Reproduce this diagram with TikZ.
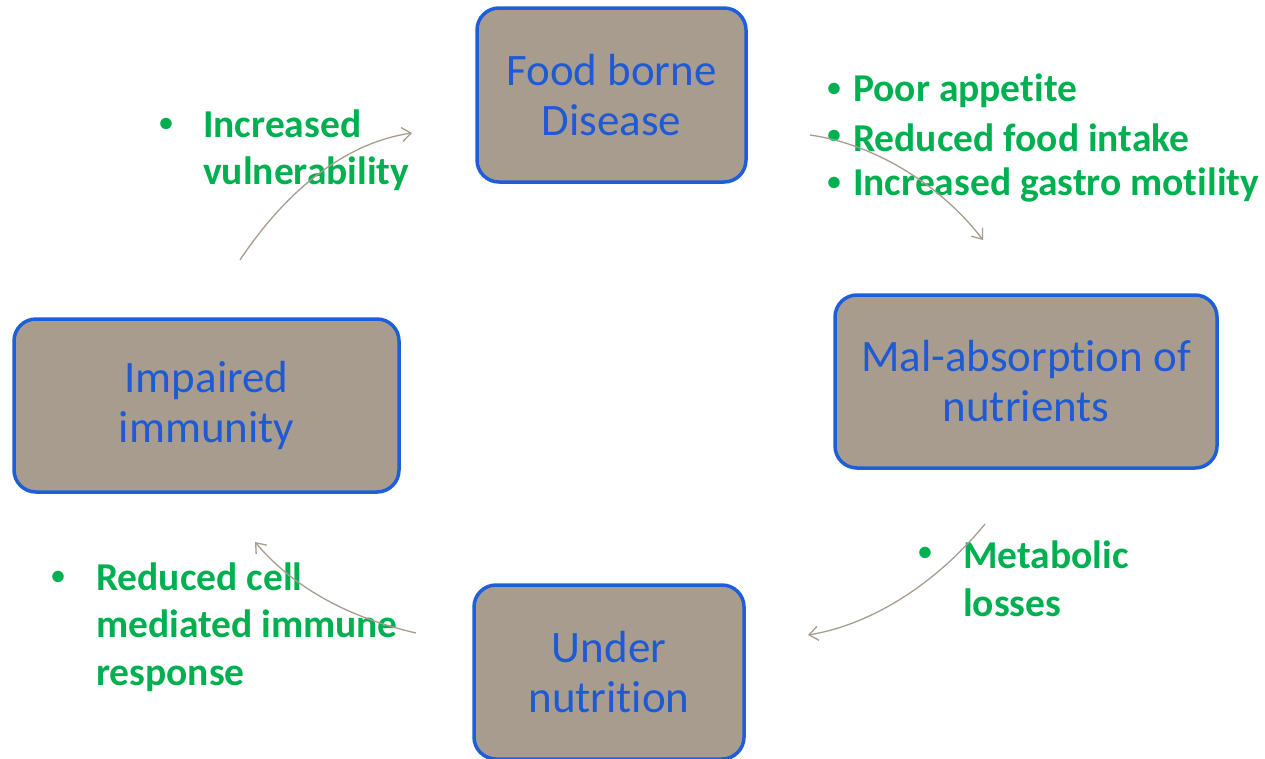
\documentclass[tikz,border=0pt]{standalone}
\usepackage{fontspec}
\setmainfont[Ligatures=NoCommon]{Carlito}
\usetikzlibrary{arrows.meta}
\definecolor{boxfill}{HTML}{A89C8F}
\definecolor{boxline}{HTML}{1E5FD9}
\definecolor{boxtext}{HTML}{1F5AD5}
\definecolor{note}{HTML}{00B050}
\definecolor{arr}{HTML}{A89C8F}
\tikzset{
  stage/.style={draw=boxline, line width=3.5pt, fill=boxfill, rounded corners=22pt,
    text=boxtext, align=center, font=\fontsize{45}{50}\selectfont, inner sep=0pt},
  notes/.style={text=note, font=\bfseries\fontsize{39.5}{47.5}\selectfont, align=left, anchor=west, inner sep=0pt},
  bul/.style={text=note, font=\bfseries\fontsize{27}{30}\selectfont, inner sep=0pt},
  cycarrow/.style={draw=arr, line width=1.3pt, -{Straight Barb[length=9pt,width=14pt]}}
}
\begin{document}
\begin{tikzpicture}[x=1pt,y=-1pt]
\useasboundingbox (0,0) rectangle (1265,758);
% boxes
\node[stage, minimum width=269pt, minimum height=174pt] (food) at (611.5,95) {Food borne\\Disease};
\node[stage, minimum width=382pt, minimum height=173pt] (mal) at (1026,381.5) {Mal-absorption of\\nutrients};
\node[stage, minimum width=385pt, minimum height=173pt] (imm) at (206.5,405.5) {Impaired\\immunity};
\node[stage, minimum width=270pt, minimum height=174pt] (under) at (609,672) {Under\\nutrition};
% notes top right
\node[bul] (b1) at (834,90) {•};
\node[notes] (t1) at (853,91) {Poor appetite};
\node[bul] (b2) at (834,137) {•};
\node[notes] (t2) at (853,138) {Reduced food intake};
\node[bul] (b3) at (834,184) {•};
\node[notes] (t3) at (853,185) {Increased gastro motility};
% notes top left
\node[bul] (b4) at (166,125) {•};
\node[notes] (t4) at (203,150) {Increased\\vulnerability};
% notes bottom right
\node[bul] (b5) at (925,554) {•};
\node[notes] (t5) at (963,579) {Metabolic\\losses};
% notes bottom left
\node[bul] (b6) at (58,578) {•};
\node[notes] (t6) at (96,627) {Reduced cell\\mediated immune\\response};
% arrows
\coordinate (a1s) at (240,260);
\coordinate (a1e) at (412,133);
\coordinate (a2s) at (810,135);
\coordinate (a2e) at (983,240);
\coordinate (a3s) at (985,524);
\coordinate (a3e) at (808,635);
\coordinate (a4s) at (416,633);
\coordinate (a4e) at (255,542);
\draw[cycarrow] (a1s) .. controls (290,185) and (350,142) .. (a1e);
\draw[cycarrow] (a2s) .. controls (880,145) and (945,190) .. (a2e);
\draw[cycarrow] (a3s) .. controls (935,585) and (870,625) .. (a3e);
\draw[cycarrow] (a4s) .. controls (360,620) and (300,595) .. (a4e);
\end{tikzpicture}
\end{document}
